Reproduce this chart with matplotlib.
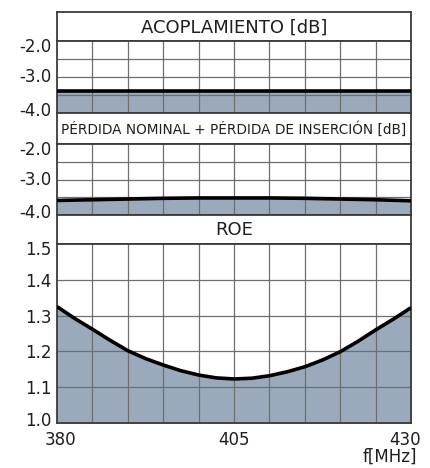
import matplotlib
matplotlib.use("Agg")
import matplotlib.pyplot as plt
import matplotlib.transforms as mtransforms
import numpy as np

plt.rcParams['font.family'] = ['DejaVu Sans']

# Data
freq = [380, 382.5, 385, 387.5, 390, 392.5, 395, 397.5, 400, 402.5, 405,
        407.5, 410, 412.5, 415, 417.5, 420, 422.5, 425, 427.5, 430]
acoplamiento = [-3.38] * 21
perdida = [-3.59, -3.58, -3.57, -3.56, -3.55, -3.54, -3.53, -3.525, -3.52, -3.52, -3.52,
           -3.52, -3.52, -3.525, -3.53, -3.54, -3.55, -3.56, -3.57, -3.585, -3.60]
roe = [1.325, 1.292, 1.262, 1.231, 1.202, 1.180, 1.162, 1.146, 1.134, 1.126, 1.123,
       1.125, 1.132, 1.143, 1.157, 1.176, 1.199, 1.228, 1.260, 1.290, 1.322]

titles = ["ACOPLAMIENTO [dB]", "PÉRDIDA NOMINAL + PÉRDIDA DE INSERCIÓN [dB]", "ROE"]
db_ticks = [-2.0, -3.0, -4.0]
roe_ticks = [1.0, 1.1, 1.2, 1.3, 1.4, 1.5]
x_ticks = [380, 405, 430]

W, H = 430, 468
fig = plt.figure(figsize=(W / 100, H / 100), dpi=100)

FILL = '#9aaabc'
GRID = '#6e6e6e'
EDGE = '#3c3c3c'
TXT = '#1e1e1e'

xl, xr = 57, 411

def ax_px(top, bottom):
    return fig.add_axes([xl / W, (H - bottom) / H, (xr - xl) / W, (bottom - top) / H])

def shift(label, dx_px, dy_px):
    label.set_transform(label.get_transform() +
                        mtransforms.ScaledTranslation(dx_px / 100, dy_px / 100, fig.dpi_scale_trans))

def title_box(top, bottom, text, size):
    a = ax_px(top, bottom)
    a.set_xticks([]); a.set_yticks([])
    for s in a.spines.values():
        s.set_color(EDGE); s.set_linewidth(1.3)
    a.text(0.5, 0.47, text, ha='center', va='center', fontsize=size,
           transform=a.transAxes, color=TXT)
    return a

def data_panel(top, bottom, y, ylim, yticks, yticklabels, grid_y):
    a = ax_px(top, bottom)
    a.set_xlim(380, 430)
    a.set_ylim(*ylim)
    a.fill_between(freq, y, ylim[0], color=FILL, zorder=1)
    for gx in np.arange(385, 430, 5):
        a.axvline(gx, color=GRID, lw=0.9, zorder=2)
    for gy in grid_y:
        a.axhline(gy, color=GRID, lw=0.9, zorder=2)
    a.plot(freq, y, color='black', lw=2.6, zorder=3, solid_capstyle='butt',
           solid_joinstyle='round')
    a.set_yticks(yticks)
    a.set_yticklabels(yticklabels, fontsize=12, color=TXT)
    a.tick_params(axis='y', length=0, pad=4)
    a.set_xticks([])
    for s in a.spines.values():
        s.set_color(EDGE); s.set_linewidth(1.3)
    return a

# Panel 1
title_box(12, 41, titles[0], 13)
a1 = data_panel(41, 113, acoplamiento, (-4.0, -2.0), db_ticks,
                ["-2.0", "-3.0", "-4.0"], [-2.5, -3.0, -3.5])
# Panel 2
title_box(113, 144, titles[1], 9.8)
a2 = data_panel(144, 215, perdida, (-4.0, -2.0), db_ticks,
                ["-2.0", "-3.0", "-4.0"], [-2.5, -3.0, -3.5])
# Panel 3
title_box(215, 244, titles[2], 13)
a3 = data_panel(244, 423, roe, (1.0, 1.5), roe_ticks,
                ["1.0", "1.1", "1.2", "1.3", "1.4", "1.5"], [1.1, 1.2, 1.3, 1.4])

# nudge the edge tick labels inward like the reference
for a in (a1, a2, a3):
    labs = a.get_yticklabels()
    vals = a.get_yticks()
    lo, hi = a.get_ylim()
    for lab, v in zip(labs, vals):
        if np.isclose(v, hi):
            shift(lab, 0, -4)
        elif np.isclose(v, lo):
            shift(lab, 0, 4)
        elif np.isclose(v, -3.0):
            shift(lab, 0, 2)

a3.set_xticks(x_ticks)
a3.set_xticklabels([str(v) for v in x_ticks], fontsize=12, color=TXT)
a3.tick_params(axis='x', length=0, pad=6)
xl_labs = a3.get_xticklabels()
shift(xl_labs[0], 3, 0)
shift(xl_labs[2], -6, 0)
fig.text(417 / W, 1 - 457 / H, "f[MHz]", ha='right', va='center', fontsize=12, color=TXT)

fig.savefig("out.png", dpi=100, facecolor='white')
